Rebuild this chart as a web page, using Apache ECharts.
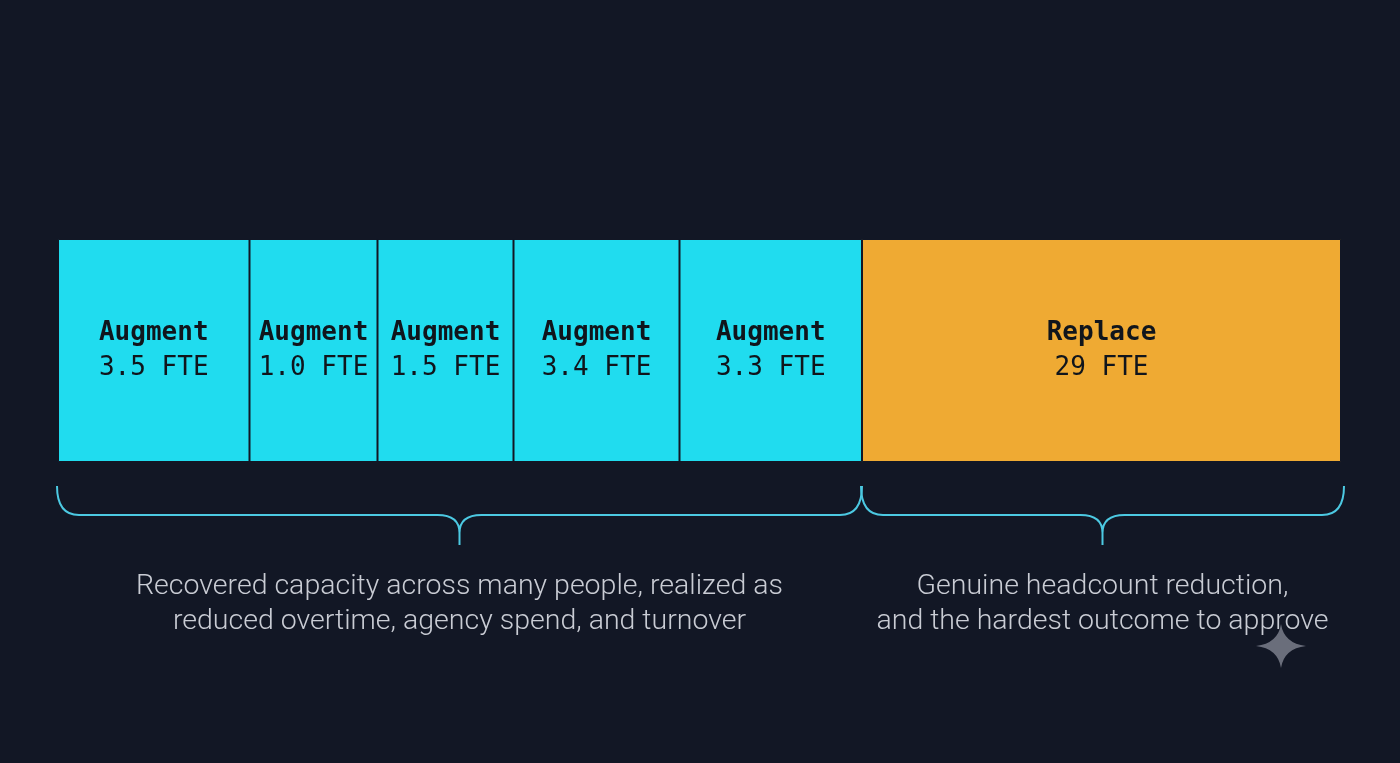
<!DOCTYPE html>
<html>
<head>
<meta charset="utf-8">
<script src="https://cdn.jsdelivr.net/npm/echarts@6/dist/echarts.min.js"></script>
<style>
  html, body { margin: 0; padding: 0; background: #121725; }
  #chart { width: 1400px; height: 763px; }
</style>
</head>
<body>
<div id="chart"></div>
<script>
// ---- data ----
const segmentNames = ['Augment', 'Augment', 'Augment', 'Augment', 'Augment', 'Replace'];
const fteValues = [3.5, 1.0, 1.5, 3.4, 3.3, 29];
const fteLabels = ['3.5 FTE', '1.0 FTE', '1.5 FTE', '3.4 FTE', '3.3 FTE', '29 FTE'];
const segmentWeight = [191.5, 128, 136, 166, 182.5, 479];   // displayed share of the strip
const segmentKind = ['augment', 'augment', 'augment', 'augment', 'augment', 'replace'];
const groupStart = [0, 5];
const groupEnd = [4, 5];
const groupCaptions = [
  'Recovered capacity across many people, realized as\nreduced overtime, agency spend, and turnover',
  'Genuine headcount reduction,\nand the hardest outcome to approve'
];

const BG = '#121725';
const COLORS = { augment: '#20dcef', replace: '#efaa33' };

const total = segmentWeight.reduce((a, b) => a + b, 0);
const cum = [0];
segmentWeight.forEach((w, i) => cum.push(cum[i] + w));
const groupData = groupStart.map((s, g) => [cum[s], cum[groupEnd[g] + 1], g]);

const series = segmentWeight.map((w, i) => ({
  type: 'bar',
  stack: 'strip',
  barWidth: '100%',
  data: [w],
  itemStyle: { color: COLORS[segmentKind[i]], borderColor: BG, borderWidth: 1 },
  label: {
    show: true,
    position: 'inside',
    formatter: '{a|' + segmentNames[i] + '}\n{b|' + fteLabels[i] + '}',
    rich: {
      a: { fontFamily: 'DejaVu Sans Mono', fontWeight: 'bold', fontSize: 26, color: '#10151c', lineHeight: 35 },
      b: { fontFamily: 'DejaVu Sans Mono', fontSize: 26, color: '#10151c', lineHeight: 35 }
    }
  },
  silent: true
}));

const yTop = 486, yMid = 515, yTip = 545, R = 22;

series.push({
  type: 'custom',
  silent: true,
  data: groupData,
  renderItem: function (params, api) {
    const g = api.value(2);
    const x0 = api.coord([api.value(0), 0])[0] - 1;
    const x1 = api.coord([api.value(1), 0])[0] + (g === groupData.length - 1 ? 3 : 0);
    const xm = (x0 + x1) / 2;
    const d = [
      'M', x0, yTop,
      'Q', x0, yMid, x0 + R, yMid,
      'L', xm - R, yMid,
      'Q', xm, yMid, xm, yTip - 12,
      'L', xm, yTip,
      'M', xm, yTip - 12,
      'Q', xm, yMid, xm + R, yMid,
      'L', x1 - R, yMid,
      'Q', x1, yMid, x1, yTop
    ].join(' ');
    return {
      type: 'group',
      children: [
        {
          type: 'path',
          shape: { pathData: d },
          style: { fill: 'none', stroke: '#4cc9e2', lineWidth: 2 }
        },
        {
          type: 'text',
          x: xm,
          y: 569,
          style: {
            text: groupCaptions[g],
            fill: '#c9ccd4',
            font: '300 28.5px Roboto',
            lineHeight: 35,
            align: 'center',
            verticalAlign: 'top'
          }
        }
      ]
    };
  }
});

// watermark sparkle (decoration)
series.push({
  type: 'custom',
  silent: true,
  data: [[0]],
  renderItem: function () {
    const cx = 1281, cy = 646, rw = 25, rh = 22, k = 0.12;
    const ox = rw * k, oy = rh * k;
    return {
      type: 'path',
      shape: { pathData:
        `M ${cx} ${cy - rh} Q ${cx + ox} ${cy - oy} ${cx + rw} ${cy} ` +
        `Q ${cx + ox} ${cy + oy} ${cx} ${cy + rh} ` +
        `Q ${cx - ox} ${cy + oy} ${cx - rw} ${cy} ` +
        `Q ${cx - ox} ${cy - oy} ${cx} ${cy - rh} Z` },
      style: { fill: '#6a6e7b' }
    };
  }
});

const chart = echarts.init(document.getElementById('chart'), null, { renderer: 'canvas' });
chart.setOption({
  backgroundColor: BG,
  animation: false,
  grid: { left: 58, right: 59, top: 239, height: 223, containLabel: false },
  xAxis: { type: 'value', min: 0, max: total, show: false },
  yAxis: { type: 'category', data: ['strip'], show: false },
  series: series
});
</script>
</body>
</html>
